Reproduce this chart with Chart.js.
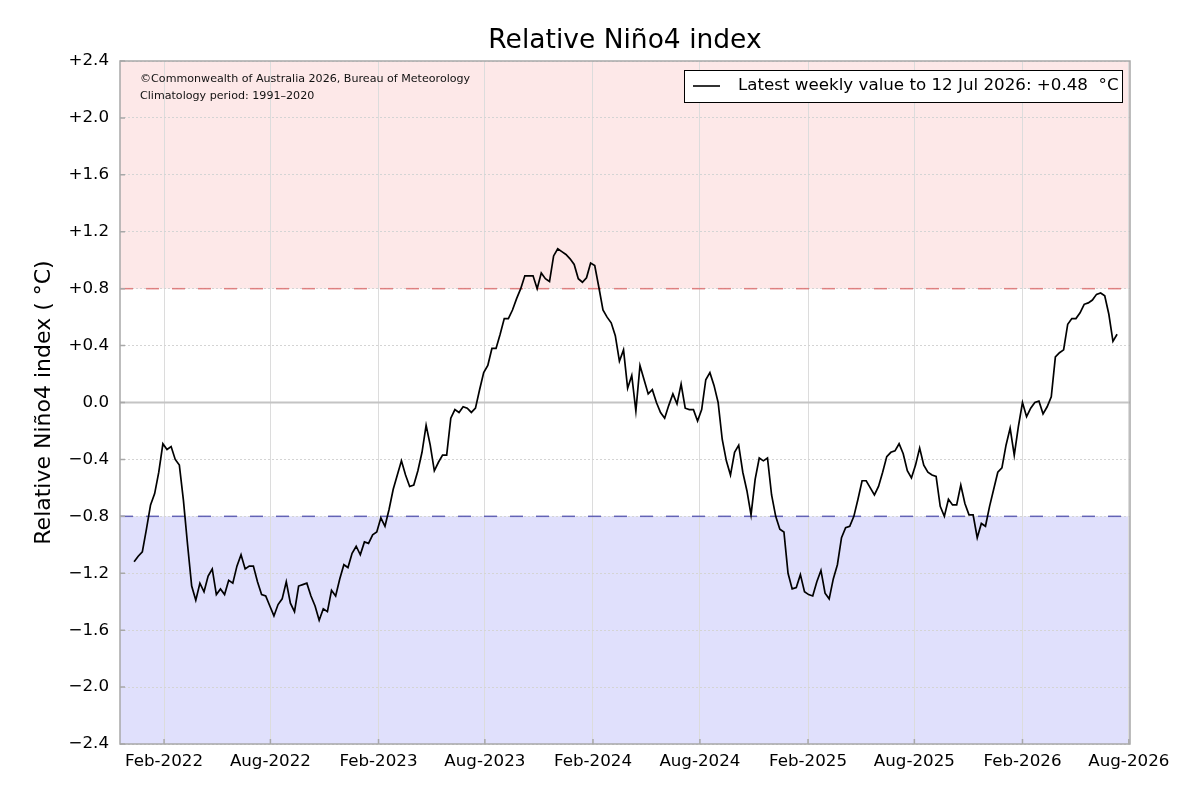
<!DOCTYPE html>
<html lang="en">
<head>
  <meta charset="UTF-8">
  <title>Relative Niño4 index</title>
  <style>
    body { margin: 0; background: #fff; }
    #wrap { width: 1200px; height: 800px; }
  </style>
</head>
<body>
  <div id="wrap"><canvas id="nino4" width="1200" height="800"></canvas></div>

  <script src="https://cdn.jsdelivr.net/npm/chart.js"></script>
  <script>
    // weekly values (°C), first week ending 12 Dec 2021, last 12 Jul 2026
    const firstWeek = "2021-12-12";
    const nino4 = [
      -1.12, -1.08, -1.05, -0.89, -0.72, -0.64, -0.49, -0.29, -0.33, -0.31,
      -0.40, -0.44, -0.69, -1.00, -1.29, -1.39, -1.27, -1.33, -1.22, -1.17,
      -1.35, -1.31, -1.35, -1.25, -1.27, -1.15, -1.07, -1.17, -1.15, -1.15,
      -1.26, -1.35, -1.36, -1.43, -1.50, -1.42, -1.38, -1.26, -1.41, -1.47,
      -1.29, -1.28, -1.27, -1.36, -1.43, -1.53, -1.45, -1.47, -1.32, -1.36,
      -1.24, -1.14, -1.16, -1.06, -1.01, -1.07, -0.98, -0.99, -0.93, -0.91,
      -0.81, -0.87, -0.75, -0.61, -0.51, -0.41, -0.51, -0.59, -0.58, -0.48,
      -0.35, -0.16, -0.30, -0.48, -0.42, -0.37, -0.37, -0.11, -0.05, -0.07,
      -0.03, -0.04, -0.07, -0.04, 0.09, 0.21, 0.26, 0.38, 0.38, 0.48,
      0.59, 0.59, 0.65, 0.73, 0.80, 0.89, 0.89, 0.89, 0.80, 0.91,
      0.87, 0.85, 1.03, 1.08, 1.06, 1.04, 1.01, 0.97, 0.87, 0.845,
      0.876, 0.98, 0.963, 0.81, 0.65, 0.60, 0.56, 0.47, 0.29, 0.37,
      0.10, 0.19, -0.06, 0.26, 0.16, 0.06, 0.09, 0.00, -0.07, -0.11,
      -0.02, 0.06, -0.01, 0.13, -0.04, -0.05, -0.05, -0.13, -0.05, 0.16,
      0.21, 0.12, 0.00, -0.26, -0.41, -0.51, -0.35, -0.30, -0.49, -0.62,
      -0.79, -0.54, -0.39, -0.41, -0.39, -0.65, -0.80, -0.89, -0.91, -1.20,
      -1.31, -1.30, -1.21, -1.33, -1.35, -1.36, -1.26, -1.18, -1.34, -1.38,
      -1.24, -1.14, -0.95, -0.88, -0.87, -0.80, -0.68, -0.55, -0.55, -0.60,
      -0.65, -0.59, -0.49, -0.38, -0.35, -0.34, -0.29, -0.36, -0.48, -0.53,
      -0.44, -0.32, -0.44, -0.49, -0.51, -0.52, -0.73, -0.80, -0.68, -0.72,
      -0.72, -0.58, -0.71, -0.79, -0.79, -0.95, -0.85, -0.87, -0.73, -0.61,
      -0.49, -0.46, -0.30, -0.18, -0.37, -0.17, 0.00, -0.10, -0.04, 0.00,
      0.01, -0.08, -0.03, 0.04, 0.32, 0.35, 0.37, 0.55, 0.59, 0.59,
      0.63, 0.69, 0.70, 0.72, 0.76, 0.77, 0.75, 0.62, 0.43, 0.48
    ];

    const tickDates = ["2022-02-01", "2022-08-01", "2023-02-01", "2023-08-01", "2024-02-01",
                       "2024-08-01", "2025-02-01", "2025-08-01", "2026-02-01", "2026-08-01"];
    const tickLabels = ["Feb-2022", "Aug-2022", "Feb-2023", "Aug-2023", "Feb-2024",
                        "Aug-2024", "Feb-2025", "Aug-2025", "Feb-2026", "Aug-2026"];
    const xRange = ["2021-11-18", "2026-08-03"];
    const thresholds = [0.8, -0.8];

    const titleText = "Relative Niño4 index";
    const yTitle = "Relative Niño4 index ( °C)";
    const creditLines = ["©Commonwealth of Australia 2026, Bureau of Meteorology",
                         "Climatology period: 1991–2020"];
    const legendText = "Latest weekly value to 12 Jul 2026: +0.48  °C";

    const FONT = "'DejaVu Sans', sans-serif";
    const dayNum = s => Date.parse(s + "T00:00:00Z") / 86400000;

    const start = dayNum(firstWeek);
    const points = nino4.map((v, i) => ({ x: start + 7 * i, y: v }));
    const tickDays = tickDates.map(dayNum);

    function fmtY(v) {
      if (Math.abs(v) < 1e-9) return "0.0";
      return (v > 0 ? "+" : "\u2212") + Math.abs(v).toFixed(1);
    }

    const decor = {
      id: "decor",
      beforeDraw(chart) {
        const { ctx, chartArea: a, scales: { y } } = chart;
        const yHi = y.getPixelForValue(thresholds[0]);
        const yLo = y.getPixelForValue(thresholds[1]);
        ctx.save();
        ctx.fillStyle = "#fde8e8";
        ctx.fillRect(a.left, a.top, a.width, yHi - a.top);
        ctx.fillStyle = "#e0e0fc";
        ctx.fillRect(a.left, yLo, a.width, a.bottom - yLo);
        ctx.restore();
      },
      beforeDatasetsDraw(chart) {
        const { ctx, chartArea: a, scales: { y } } = chart;
        ctx.save();
        // zero line
        const y0 = y.getPixelForValue(0);
        ctx.strokeStyle = "#c4c4c4";
        ctx.lineWidth = 2;
        ctx.beginPath(); ctx.moveTo(a.left, y0); ctx.lineTo(a.right, y0); ctx.stroke();
        // +/-0.8 dashed
        ctx.lineWidth = 1.5;
        ctx.setLineDash([13, 13]);
        [[thresholds[0], "rgba(220,110,110,0.85)"], [thresholds[1], "rgba(85,85,175,0.9)"]].forEach(([v, c]) => {
          const py = y.getPixelForValue(v);
          ctx.strokeStyle = c;
          ctx.beginPath(); ctx.moveTo(a.left, py); ctx.lineTo(a.right, py); ctx.stroke();
        });
        ctx.restore();
      },
      afterDraw(chart) {
        const { ctx, chartArea: a, scales: { x, y } } = chart;
        ctx.save();
        // frame + inward ticks
        ctx.strokeStyle = "#a8a8a8";
        ctx.lineWidth = 1.5;
        ctx.strokeRect(a.left, a.top, a.width, a.height);
        ctx.beginPath();
        tickDays.forEach(d => {
          const px = x.getPixelForValue(d);
          ctx.moveTo(px, a.bottom); ctx.lineTo(px, a.bottom - 5);
        });
        y.ticks.forEach(t => {
          const py = y.getPixelForValue(t.value);
          ctx.moveTo(a.left, py); ctx.lineTo(a.left + 5, py);
        });
        ctx.stroke();

        // title
        ctx.fillStyle = "#000";
        ctx.font = "26.5px " + FONT;
        ctx.textAlign = "center";
        ctx.textBaseline = "middle";
        ctx.fillText(titleText, (a.left + a.right) / 2, 41);

        // y title
        ctx.save();
        ctx.translate(44, (a.top + a.bottom) / 2);
        ctx.rotate(-Math.PI / 2);
        ctx.font = "22px " + FONT;
        ctx.fillText(yTitle, 0, 0);
        ctx.restore();

        // credit text
        ctx.font = "11.1px " + FONT;
        ctx.textAlign = "left";
        ctx.fillStyle = "#111";
        ctx.fillText(creditLines[0], 140, 79);
        ctx.fillText(creditLines[1], 140, 96);

        // legend box
        const bx = 684, by = 70, bw = 438, bh = 32;
        ctx.fillStyle = "#fff";
        ctx.fillRect(bx, by, bw, bh);
        ctx.strokeStyle = "#000";
        ctx.lineWidth = 1;
        ctx.strokeRect(bx + 0.5, by + 0.5, bw, bh);
        ctx.lineWidth = 1.6;
        ctx.beginPath(); ctx.moveTo(693, 86); ctx.lineTo(720, 86); ctx.stroke();
        ctx.fillStyle = "#000";
        ctx.font = "16.7px " + FONT;
        ctx.textBaseline = "middle";
        ctx.fillText(legendText, 738, 86);
        ctx.restore();
      }
    };

    new Chart(document.getElementById("nino4"), {
      type: "line",
      data: {
        datasets: [{
          label: legendText,
          data: points,
          borderColor: "#000",
          borderWidth: 1.7,
          pointRadius: 0,
          tension: 0,
          fill: false
        }]
      },
      options: {
        responsive: false,
        animation: false,
        layout: { padding: { top: 61, right: 70, left: 0, bottom: 0 } },
        plugins: { legend: { display: false }, tooltip: { enabled: false } },
        scales: {
          x: {
            type: "linear",
            min: dayNum(xRange[0]),
            max: dayNum(xRange[1]),
            afterBuildTicks: axis => { axis.ticks = tickDays.map(v => ({ value: v })); },
            afterFit: axis => { axis.height = 56; },
            ticks: {
              autoSkip: false,
              maxRotation: 0,
              padding: 8,
              color: "#000",
              font: { family: FONT, size: 16.7 },
              callback: v => tickLabels[tickDays.indexOf(v)]
            },
            grid: { color: "#dcdcdc", lineWidth: 1, drawTicks: false },
            border: { display: false }
          },
          y: {
            min: -2.4,
            max: 2.4,
            afterFit: axis => { axis.width = 120; },
            ticks: {
              stepSize: 0.4,
              padding: 11,
              color: "#000",
              font: { family: FONT, size: 16.7 },
              callback: v => fmtY(v)
            },
            grid: { color: "#d4d4d4", lineWidth: 1, drawTicks: false },
            border: { display: false, dash: [2, 2] }
          }
        }
      },
      plugins: [decor]
    });
  </script>
</body>
</html>
